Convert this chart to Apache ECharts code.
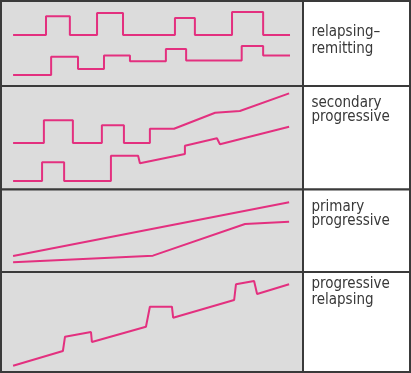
<!DOCTYPE html>
<html>
<head>
<meta charset="utf-8">
<script src="https://cdn.jsdelivr.net/npm/echarts@6/dist/echarts.min.js"></script>
<style>html,body{margin:0;padding:0;background:#fff}#c{width:411px;height:373px}</style>
</head>
<body>
<div id="c"></div>
<script>
// Disease course labels (one per panel)
const panelLabels = ['relapsing–\nremitting', 'secondary\nprogressive', 'primary\nprogressive', 'progressive\nrelapsing'];

// Time (0–100) and disability level (0–10)
const rrUpper = [[4.0,6.0],[14.9,6.0],[14.9,8.2],[22.8,8.2],[22.8,6.0],[31.8,6.0],[31.8,8.6],[40.4,8.6],[40.4,6.0],[57.6,6.0],[57.6,8.0],[64.2,8.0],[64.2,6.0],[76.5,6.0],[76.5,8.7],[86.8,8.7],[86.8,6.0],[95.7,6.0]];
const rrLower = [[4.0,1.3],[16.6,1.3],[16.6,3.45],[25.5,3.45],[25.5,2.0],[34.1,2.0],[34.1,3.6],[42.7,3.6],[42.7,2.9],[54.6,2.9],[54.6,4.35],[61.3,4.35],[61.3,3.0],[79.7,3.0],[79.7,4.7],[86.8,4.7],[86.8,3.6],[95.7,3.6]];

const spUpper = [[4.0,4.5],[14.2,4.5],[14.2,6.7],[23.8,6.7],[23.8,4.5],[33.4,4.5],[33.4,6.2],[40.7,6.2],[40.7,4.5],[49.3,4.5],[49.3,5.87],[57.3,5.87],[70.9,7.42],[79.1,7.58],[95.4,9.29]];
const spLower = [[4.0,0.82],[13.6,0.82],[13.6,2.63],[20.9,2.63],[20.9,0.82],[36.4,0.82],[36.4,3.27],[45.4,3.27],[46.0,2.53],[60.9,3.43],[60.9,4.23],[71.5,4.95],[72.5,4.37],[95.4,6.07]];

const ppUpper = [[4.0,1.94],[95.4,8.45]];
const ppLower = [[4.0,1.18],[50.3,1.98],[80.8,5.82],[95.4,6.10]];

const prLine = [[4.0,0.63],[20.5,2.1],[21.2,3.53],[29.8,4.0],[30.1,3.0],[48.0,4.53],[49.3,6.53],[56.6,6.53],[57.0,5.43],[77.2,7.2],[77.8,8.77],[83.8,9.1],[84.8,7.8],[95.4,8.77]];

const panelSeries = [[rrUpper, rrLower], [spUpper, spLower], [ppUpper, ppLower], [prLine]];

// Layout
const panelTops = [1, 86, 189.5, 272];
const panelHeights = [85, 103.5, 82.5, 100];
const labelTops = [24.2, 95.6, 200.5, 275.4];
const labelLineHeights = [16.6, 14.3, 14, 16.7];
const LINE_COLOR = '#e3307f';
const BORDER = '#3a3a3a';

const grids = [], xAxes = [], yAxes = [], series = [], titles = [], graphics = [];
panelTops.forEach((top, i) => {
  grids.push({left: 1, width: 302, top: top, height: panelHeights[i], show: true,
    backgroundColor: '#dcdcdc', borderColor: BORDER, borderWidth: 2});
  xAxes.push({type: 'value', gridIndex: i, min: 0, max: 100, show: false});
  yAxes.push({type: 'value', gridIndex: i, min: 0, max: 10, show: false});
  panelSeries[i].forEach(d => {
    series.push({type: 'line', xAxisIndex: i, yAxisIndex: i, data: d, showSymbol: false,
      symbol: 'none', lineStyle: {color: LINE_COLOR, width: 2}, itemStyle: {color: LINE_COLOR}, silent: true});
  });
  graphics.push({type: 'rect', shape: {x: 303, y: top, width: 107, height: panelHeights[i]},
    style: {fill: '#fff', stroke: BORDER, lineWidth: 2}, z: 0});
  titles.push({text: panelLabels[i], left: 311.5, top: labelTops[i], padding: 0,
    textStyle: {fontFamily: '"Liberation Sans Narrow", "DejaVu Sans Condensed", sans-serif', fontSize: 15,
      fontWeight: 'normal', color: '#383838', lineHeight: labelLineHeights[i]}});
});

const chart = echarts.init(document.getElementById('c'), null, {renderer: 'canvas'});
chart.setOption({
  animation: false,
  backgroundColor: '#fff',
  title: titles,
  grid: grids,
  xAxis: xAxes,
  yAxis: yAxes,
  series: series,
  graphic: graphics
});
</script>
</body>
</html>
